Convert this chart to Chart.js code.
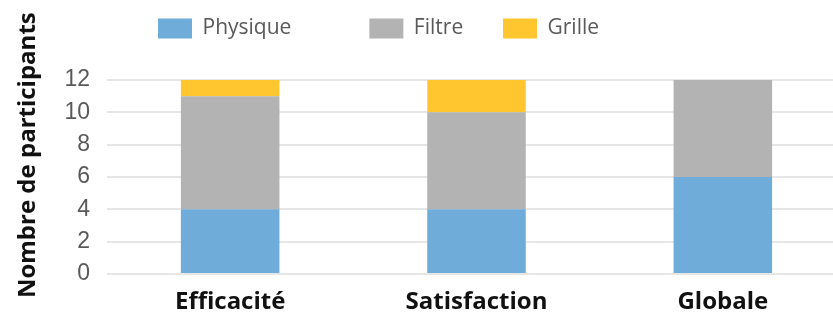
<!DOCTYPE html>
<html>
<head>
<meta charset="utf-8">
<script src="https://cdn.jsdelivr.net/npm/chart.js@4/dist/chart.umd.min.js"></script>
<style>
  html, body { margin: 0; padding: 0; background: #fff; overflow: hidden; }
  #wrap { width: 846px; height: 323px; }
</style>
</head>
<body>
<div id="wrap"><canvas id="chart"></canvas></div>
<script>
const categories = ['Efficacité', 'Satisfaction', 'Globale'];
const physique   = [4, 4, 6];
const filtre     = [7, 6, 6];
const grille     = [1, 2, 0];
const yTicks     = [0, 2, 4, 6, 8, 10, 12];

// legend sits in an 80px band, shifted left of centre like the original
const legendBand = {
  id: 'legendBand',
  beforeInit(chart) {
    const fit = chart.legend.fit;
    chart.legend.fit = function () { fit.call(this); this.height = 80; };
  },
  afterLayout(chart) { chart.legend.left = 140; }
};

// spacing between legend items is uneven in the source
const gaps = { Physique: '           ', Filtre: '    ', Grille: '' };

new Chart(document.getElementById('chart'), {
  type: 'bar',
  data: {
    labels: categories,
    datasets: [
      { label: 'Physique', data: physique, backgroundColor: '#6FACDA' },
      { label: 'Filtre',   data: filtre,   backgroundColor: '#B3B3B3' },
      { label: 'Grille',   data: grille,   backgroundColor: '#FFC62F' },
    ],
  },
  plugins: [legendBand],
  options: {
    responsive: true, maintainAspectRatio: false, animation: false,
    datasets: { bar: { barPercentage: 0.4, categoryPercentage: 1 } },
    layout: { padding: 0 },
    plugins: {
      tooltip: { enabled: false },
      legend: {
        position: 'top', align: 'start',
        labels: {
          boxWidth: 34, boxHeight: 20, padding: 18, color: '#595959',
          font: { family: 'Open Sans', size: 21 },
          generateLabels(chart) {
            return Chart.defaults.plugins.legend.labels.generateLabels(chart)
              .map(l => ({ ...l, text: l.text + gaps[l.text] }));
          },
        },
      },
    },
    scales: {
      x: {
        stacked: true,
        grid: { display: false, drawTicks: false },
        border: { display: false },
        ticks: { color: '#111', padding: 14, font: { family: 'Open Sans', size: 24, weight: 'bold' } },
        afterFit(scale) { scale.height = 49; },
      },
      y: {
        stacked: true, min: 0, max: 12,
        afterBuildTicks(scale) { scale.ticks = yTicks.map(v => ({ value: v })); },
        grid: { color: '#e6e6e6', lineWidth: 2, drawTicks: false },
        border: { display: false },
        ticks: { color: '#595959', padding: 17, font: { family: 'Liberation Sans', size: 23 } },
        title: {
          display: true, text: '       Nombre de participants', color: '#111',
          padding: { top: 14, bottom: 0 },
          font: { family: 'Open Sans', size: 24, weight: 'bold' },
        },
        afterFit(scale) { scale.width = 107; },
      },
    },
  },
});
</script>
</body>
</html>
